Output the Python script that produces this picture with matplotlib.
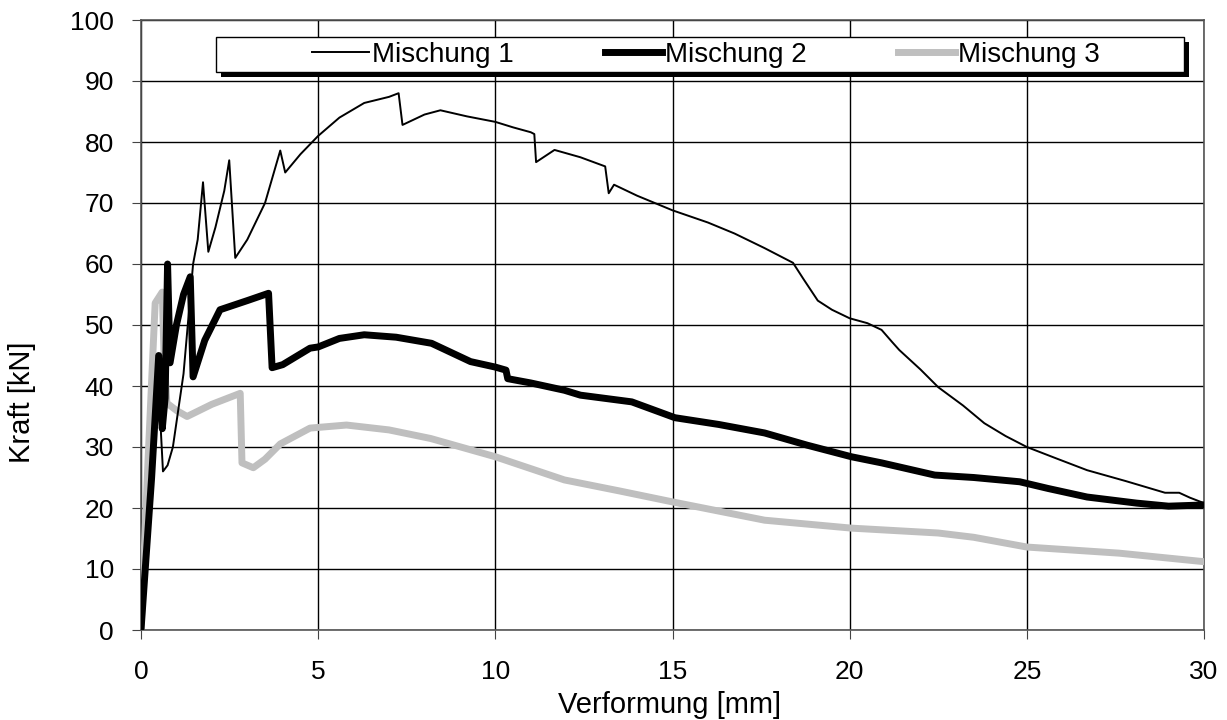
import matplotlib.pyplot as plt
from matplotlib.patches import Rectangle

plt.rcParams['font.family'] = ['Liberation Sans', 'DejaVu Sans']

# Mischung 1 (thin black)
x1 = [0, 0.25, 0.45, 0.62, 0.75, 0.9, 1.2, 1.47, 1.6, 1.75, 1.9, 2.1, 2.35, 2.49, 2.66,
      3.0, 3.5, 3.93, 4.07, 4.5, 5.0, 5.6, 6.3, 7.0, 7.27, 7.38, 8.0, 8.45, 9.2,
      10.0, 10.5, 11.0, 11.1, 11.15, 11.67, 12.4, 13.1, 13.2, 13.35, 14.0, 15.0,
      16.0, 16.75, 17.6, 18.4, 18.7, 19.1, 19.5, 20.0, 20.5, 20.9, 21.2, 21.4,
      22.0, 22.5, 23.2, 23.8, 24.4, 25.0, 25.8, 26.7, 27.8, 28.9, 29.3, 29.6, 30.0]
y1 = [0, 19, 45, 26, 27, 30, 42, 60, 64, 73.4, 62, 66, 72, 77, 61,
      64, 70, 78.6, 75, 78, 81, 84, 86.4, 87.4, 88, 82.8, 84.5, 85.2, 84.2,
      83.3, 82.4, 81.6, 81.3, 76.7, 78.7, 77.5, 76, 71.6, 73, 71.2, 68.8,
      66.8, 65, 62.6, 60.2, 57.5, 54, 52.5, 51.1, 50.3, 49.2, 47.2, 45.9,
      42.7, 39.8, 36.8, 33.9, 31.8, 30, 28.2, 26.2, 24.4, 22.5, 22.5, 21.7, 20.8]

# Mischung 2 (thick black)
x2 = [0, 0.3, 0.5, 0.6, 0.68, 0.75, 0.82, 1.0, 1.2, 1.39, 1.47, 1.8, 2.23, 3.0,
      3.6, 3.7, 4.0, 4.77, 5.0, 5.6, 6.3, 7.2, 8.2, 9.3, 10.0, 10.3, 10.35, 11.0,
      11.95, 12.4, 13.85, 15.07, 16.3, 17.6, 18.8, 20.05, 20.9, 22.4, 23.5, 24.8,
      25.6, 26.7, 28.1, 29.0, 30.0]
y2 = [0, 25, 45, 33, 38, 60, 43.8, 50, 55, 57.9, 41.5, 47.5, 52.5, 54,
      55.2, 43, 43.5, 46.2, 46.4, 47.8, 48.4, 48.0, 47, 44, 43.1, 42.6, 41.2, 40.5,
      39.3, 38.5, 37.4, 34.8, 33.7, 32.3, 30.3, 28.4, 27.4, 25.4, 25.0, 24.3,
      23.2, 21.8, 20.8, 20.3, 20.5]

# Mischung 3 (grey)
x3 = [0, 0.2, 0.4, 0.6, 0.65, 0.73, 1.0, 1.3, 2.0, 2.8, 2.85, 3.17, 3.5, 3.93,
      4.77, 5.8, 7.0, 8.17, 10.0, 11.95, 13.5, 15.0, 17.6, 20.05, 22.5, 23.5,
      25.0, 27.6, 30.0]
y3 = [0, 28, 53.6, 55.4, 45, 37.2, 36, 35, 37, 38.8, 27.4, 26.6, 28, 30.5,
      33.1, 33.6, 32.8, 31.4, 28.4, 24.6, 22.8, 21, 18, 16.7, 15.9, 15.2,
      13.6, 12.6, 11.2]

x_ticks = [0, 5, 10, 15, 20, 25, 30]
y_ticks = [0, 10, 20, 30, 40, 50, 60, 70, 80, 90, 100]

W, H = 1227, 720
fig = plt.figure(figsize=(W / 100, H / 100), dpi=100)
ax = fig.add_axes([141 / W, 1 - 630 / H, 1063 / W, 610 / H])

ax.plot(x3, y3, color='#BFBFBF', lw=5, label='Mischung 3', zorder=3)
ax.plot(x2, y2, color='black', lw=5, label='Mischung 2', zorder=4)
ax.plot(x1, y1, color='black', lw=1.4, label='Mischung 1', zorder=5)

ax.set_xlim(0, 30)
ax.set_ylim(0, 100)
ax.set_xticks(x_ticks)
ax.set_yticks(y_ticks)
ax.grid(True, color='black', lw=1)
ax.set_axisbelow(True)
ax.tick_params(labelsize=19, direction='out', length=6.5, color='#444444')
ax.tick_params(axis='x', pad=15)
ax.tick_params(axis='y', pad=13)
for s in ax.spines.values():
    s.set_color('#555555')
    s.set_linewidth(1.2)

fig.text(670 / W, 1 - 705 / H, 'Verformung [mm]', fontsize=21,
         ha='center', va='center')
fig.text(22 / W, 1 - 402 / H, 'Kraft [kN]', fontsize=21, rotation=90,
         ha='center', va='center')

# legend box with black shadow
ax.add_patch(Rectangle((221 / W, 1 - 77 / H), 968 / W, 35 / H, transform=fig.transFigure,
                       facecolor='black', edgecolor='none', clip_on=False, zorder=6))
ax.add_patch(Rectangle((216 / W, 1 - 72 / H), 968 / W, 35 / H, transform=fig.transFigure,
                       facecolor='white', edgecolor='black', lw=1, clip_on=False, zorder=7))

h, l = ax.get_legend_handles_labels()
order = [2, 1, 0]
leg = ax.legend([h[i] for i in order], [l[i] for i in order], ncol=3,
                loc='center', bbox_to_anchor=(706 / W, 1 - 55 / H),
                bbox_transform=fig.transFigure, fontsize=20, frameon=False,
                handlelength=2.05, handletextpad=0.1, columnspacing=3.3)
leg.set_zorder(8)

fig.savefig('out.png', dpi=100)
